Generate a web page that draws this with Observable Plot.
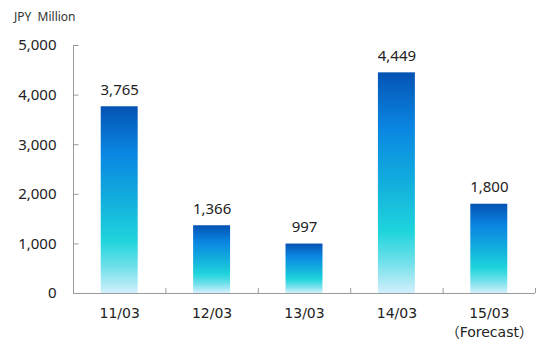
<!DOCTYPE html>
<html><head><meta charset="utf-8">
<script src="https://cdn.jsdelivr.net/npm/d3@7"></script>
<script src="https://cdn.jsdelivr.net/npm/@observablehq/plot@0.6"></script>
<style>
body{margin:0;background:#fff;font-family:"Noto Sans",sans-serif;}
#unit{height:30px;line-height:34px;padding-left:14px;font-size:12px;color:#333;}
</style></head><body>
<div id="unit">JPY&nbsp; Million</div>
<div id="chart"></div>
<script>
const categories = ["11/03", "12/03", "13/03", "14/03", "15/03\n（Forecast）"];
const values = [3765, 1366, 997, 4449, 1800];
const yTicks = [0, 1000, 2000, 3000, 4000, 5000];
const xBoundaries = [0, 1, 2, 3, 4, 5];

const data = categories.map((c, i) => ({c, i, v: values[i]}));
const fmt = d3.format(",");

const defs = () => {
  const ns = "http://www.w3.org/2000/svg";
  const d = document.createElementNS(ns, "defs");
  d.innerHTML = `<linearGradient id="barGrad" x1="0" y1="0" x2="0" y2="1">
    <stop offset="0" stop-color="#0453b3"/>
    <stop offset="0.25" stop-color="#0a86e2"/>
    <stop offset="0.5" stop-color="#12aedd"/>
    <stop offset="0.72" stop-color="#1fd4dc"/>
    <stop offset="0.86" stop-color="#6fe0ea"/>
    <stop offset="1" stop-color="#d2f0fc"/>
  </linearGradient>`;
  return d;
};

const chart = Plot.plot({
  width: 539,
  height: 312,
  marginLeft: 73,
  marginRight: 4,
  marginTop: 15,
  marginBottom: 49,
  x: {domain: [0, 5], axis: null},
  y: {domain: [0, 5000], axis: null},
  style: {fontFamily: "Noto Sans, sans-serif", color: "#222", background: "#fff"},
  marks: [
    defs,
    Plot.rectY(data, {x1: d => d.i + 0.3, x2: d => d.i + 0.7, y: "v", fill: "url(#barGrad)"}),
    Plot.text(data, {x: d => d.i + 0.5, y: "v", text: d => fmt(d.v), dy: -17, fontSize: 15, fill: "#222"}),
    Plot.ruleY([0], {stroke: "#9a9a9a"}),
    Plot.ruleX([0], {y1: 0, y2: 5000, stroke: "#9a9a9a"}),
    Plot.ruleY(yTicks, {x1: 0, x2: 0.06, stroke: "#9a9a9a"}),
    Plot.ruleX(xBoundaries, {y1: 0, y2: 100, stroke: "#9a9a9a"}),
    Plot.text(yTicks, {x: 0, y: d => d, text: d => fmt(d), textAnchor: "end", dx: -17, fontSize: 15, fill: "#222"}),
    Plot.text(data, {x: d => d.i + 0.5, y: 0, text: "c", lineAnchor: "top", dy: 11, fontSize: 14, lineHeight: 1.35, fill: "#222", fontFamily: "DejaVu Sans, Noto Sans CJK JP, sans-serif"})
  ]
});
document.getElementById("chart").appendChild(chart);
</script>
</body></html>
